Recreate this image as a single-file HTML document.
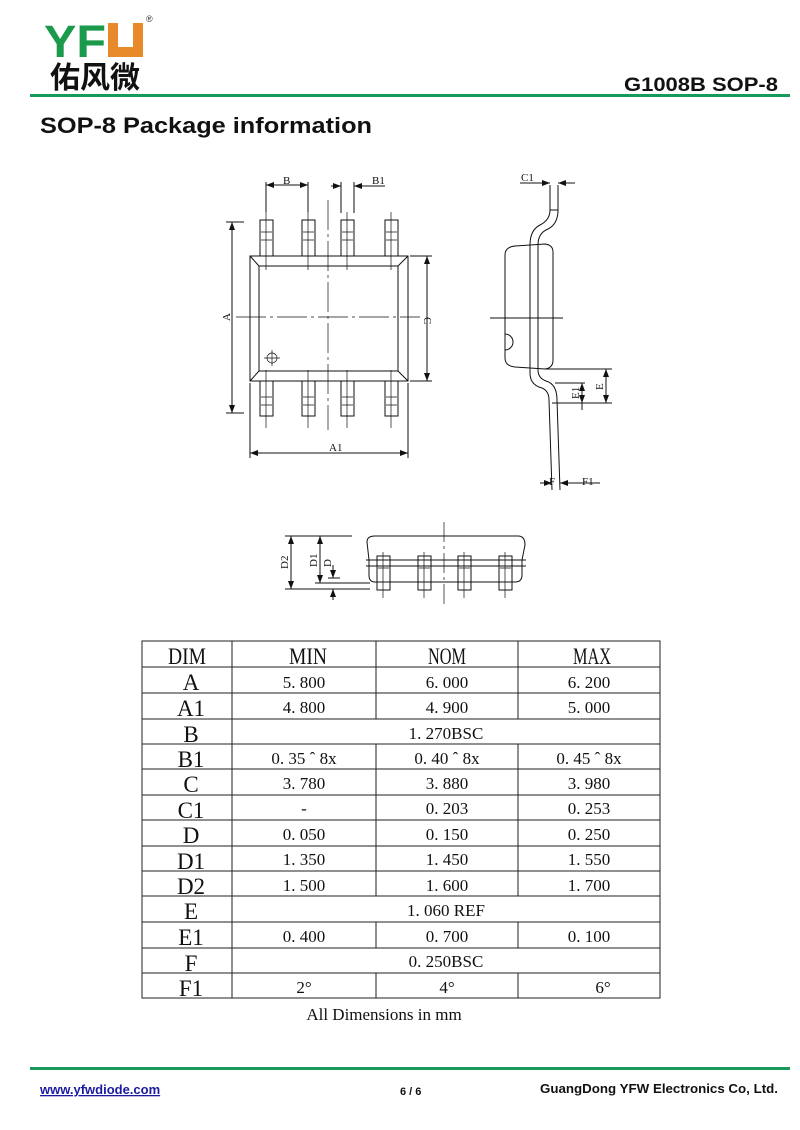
<!DOCTYPE html>
<html><head><meta charset="utf-8"><style>
html,body{margin:0;padding:0;background:#fff;}
svg{display:block}
.s{font-family:"Liberation Sans",Arial,sans-serif;font-weight:bold}
.t{font-family:"Liberation Serif","Noto Serif CJK SC",serif;fill:#111}
</style></head><body>
<svg width="800" height="1130" viewBox="0 0 800 1130" xmlns="http://www.w3.org/2000/svg">
<defs>
<marker id="ar" markerWidth="8" markerHeight="6" refX="8" refY="3" orient="auto-start-reverse" markerUnits="userSpaceOnUse"><path d="M0,0 L8,3 L0,6 z" fill="#111"/></marker>
</defs>
<!-- header -->
<text x="44" y="57" class="s" font-size="45" fill="#1a9a4a" textLength="62" lengthAdjust="spacingAndGlyphs">YF</text>
<path d="M108,23 h10 v24 h15 v-24 h10 v34 h-35 z" fill="#e88a2a"/>
<text x="146" y="22" font-family="Liberation Sans" font-size="9" fill="#333">®</text>
<text x="50" y="88" font-family="'Noto Sans CJK SC',sans-serif" font-weight="bold" font-size="30" fill="#111">佑风微</text>
<text x="624" y="91" class="s" font-size="19" fill="#111" textLength="154" lengthAdjust="spacingAndGlyphs">G1008B  SOP-8</text>
<rect x="30" y="94" width="760" height="3" fill="#1a9a5a"/>
<text x="40" y="133" class="s" font-size="22" fill="#111" textLength="332" lengthAdjust="spacingAndGlyphs">SOP-8 Package information</text>

<g stroke="#111" stroke-width="1" fill="none">
<!-- top view body -->
<rect x="250" y="256" width="158" height="125"/>
<rect x="259" y="266" width="139" height="105"/>
<path d="M250,256 L259,266 M408,256 L398,266 M250,381 L259,371 M408,381 L398,371"/>
<g>
<rect x="260" y="220" width="13" height="36"/><rect x="302" y="220" width="13" height="36"/><rect x="341" y="220" width="13" height="36"/><rect x="385" y="220" width="13" height="36"/>
<rect x="260" y="381" width="13" height="35"/><rect x="302" y="381" width="13" height="35"/><rect x="341" y="381" width="13" height="35"/><rect x="385" y="381" width="13" height="35"/>
</g>
<g stroke-width="0.7">
<path d="M266,212 V270 M308,212 V270 M347,212 V270 M391,212 V270 M266,370 V428 M308,370 V428 M347,370 V428 M391,370 V428"/>
<path d="M261,232 h11 M261,240 h11 M303,232 h11 M303,240 h11 M342,232 h11 M342,240 h11 M386,232 h11 M386,240 h11 M261,397 h11 M261,405 h11 M303,397 h11 M303,405 h11 M342,397 h11 M342,405 h11 M386,397 h11 M386,405 h11"/>
<path d="M236,317 H420" stroke-dasharray="30,4,3,4"/>
<path d="M328,200 V430" stroke-dasharray="30,4,3,4"/>
<circle cx="272" cy="358" r="5"/><path d="M264,358 h16 M272,350 v16"/>
</g>
<!-- dims -->
<path d="M226,222 H244 M226,413 H244"/>
<path d="M232,222 V413" marker-start="url(#ar)" marker-end="url(#ar)"/>
<path d="M410,256 H432 M410,381 H432"/>
<path d="M427,256 V381" marker-start="url(#ar)" marker-end="url(#ar)"/>
<path d="M250,383 V458 M408,383 V458"/>
<path d="M250,453 H408" marker-start="url(#ar)" marker-end="url(#ar)"/>
<path d="M266,182 V212 M308,182 V212 M341,182 V213 M354,182 V213"/>
<path d="M266,185 H308" marker-start="url(#ar)" marker-end="url(#ar)"/>
<path d="M331,186 H341" marker-end="url(#ar)"/><path d="M364,186 H354" marker-end="url(#ar)"/><path d="M354,186 H385"/>

<!-- side view -->
<path d="M505,255 Q505,247 515,246 L545,244 Q553,245 553,252 V360 Q553,368 545,369 L515,367 Q505,366 505,358 Z"/>
<path d="M505,334 A6,6 0 0 1 505,350"/>
<path d="M490,318 H563"/>
<path d="M550,185 V210 M558,185 V210"/>
<path d="M550,210 Q550,220 540,225 Q530,230 530,245 V373 Q530,385 542,388 Q549,391 549,400 L552,490"/>
<path d="M558,210 Q558,224 548,229 Q538,233 538,245 V370 Q538,378 546,381 Q557,384 557,400 L560,490"/>
<path d="M550,210 H558"/>
<path d="M520,183 H540" /><path d="M540,183 H550" marker-end="url(#ar)"/><path d="M575,183 H558" marker-end="url(#ar)"/>
<path d="M545,369 H612 M555,383 H585 M552,403 H612"/>
<path d="M606,369 V403" marker-start="url(#ar)" marker-end="url(#ar)"/>
<path d="M582,383 V403" marker-start="url(#ar)" marker-end="url(#ar)"/>
<path d="M582,403 V410"/>
<path d="M540,483 H552" marker-end="url(#ar)"/><path d="M568,483 H560" marker-end="url(#ar)"/><path d="M560,483 H600"/>

<!-- bottom view -->
<path d="M367,542 Q367,536 375,536 L518,536 Q525,536 525,545 L522,560 V575 Q522,582 515,582 L375,582 Q369,582 369,575 V560 Z"/>
<path d="M366,560 H526 M366,566 H526"/>
<rect x="377" y="556" width="13" height="34"/><rect x="418" y="556" width="13" height="34"/><rect x="458" y="556" width="13" height="34"/><rect x="499" y="556" width="13" height="34"/>
<g stroke-width="0.7"><path d="M383,552 V598 M424,552 V598 M464,552 V598 M505,552 V598 M378,568 h11 M419,568 h11 M459,568 h11 M500,568 h11"/>
<path d="M444,522 V608" stroke-dasharray="20,4,3,4"/></g>
<path d="M285,536 H352 M285,589 H370 M315,583 H370 M328,578 H340"/>
<path d="M291,536 V589" marker-start="url(#ar)" marker-end="url(#ar)"/>
<path d="M320,536 V583" marker-start="url(#ar)" marker-end="url(#ar)"/>
<path d="M333,565 V578" marker-end="url(#ar)"/><path d="M333,600 V589" marker-end="url(#ar)"/>
</g>
<g class="t" font-size="11">
<text x="283" y="184">B</text><text x="372" y="184">B1</text><text x="521" y="181">C1</text>
<text x="329" y="451">A1</text><text x="582" y="485">F1</text><text x="549" y="485">F</text>
<text transform="translate(230,321) rotate(-90)">A</text>
<text transform="translate(424,317) rotate(90)">C</text>
<text transform="translate(603,390) rotate(-90)">E</text>
<text transform="translate(579,399) rotate(-90)">E1</text>
<text transform="translate(288,569) rotate(-90)">D2</text>
<text transform="translate(317,567) rotate(-90)">D1</text>
<text transform="translate(331,567) rotate(-90)">D</text>
</g>

<!-- table -->
<g stroke="#222" stroke-width="1" fill="none">
<rect x="142" y="641" width="518" height="357"/>
<path d="M142,667 H660 M142,693 H660 M142,719 H660 M142,744 H660 M142,769 H660 M142,795 H660 M142,820 H660 M142,846 H660 M142,871 H660 M142,896 H660 M142,922 H660 M142,948 H660 M142,973 H660"/>
<path d="M232,641 V998"/>
<path d="M376,641 V719 M518,641 V719 M376,744 V896 M518,744 V896 M376,922 V948 M518,922 V948 M376,973 V998 M518,973 V998"/>
</g>
<g class="t" font-size="23" text-anchor="middle">
<text x="187" y="664" textLength="38" lengthAdjust="spacingAndGlyphs">DIM</text><text x="308" y="664" textLength="38" lengthAdjust="spacingAndGlyphs">MIN</text><text x="447" y="664" textLength="38" lengthAdjust="spacingAndGlyphs">NOM</text><text x="592" y="664" textLength="38" lengthAdjust="spacingAndGlyphs">MAX</text>
<text x="191" y="690">A</text><text x="191" y="716">A1</text><text x="191" y="742">B</text><text x="191" y="767">B1</text><text x="191" y="792">C</text><text x="191" y="818">C1</text><text x="191" y="843">D</text><text x="191" y="869">D1</text><text x="191" y="894">D2</text><text x="191" y="919">E</text><text x="191" y="945">E1</text><text x="191" y="971">F</text><text x="191" y="996">F1</text>
</g>
<g class="t" font-size="17" text-anchor="middle">
<text x="304" y="688">5. 800</text><text x="447" y="688">6. 000</text><text x="589" y="688">6. 200</text>
<text x="304" y="713">4. 800</text><text x="447" y="713">4. 900</text><text x="589" y="713">5. 000</text>
<text x="446" y="739">1. 270BSC</text>
<text x="304" y="764">0. 35 ˆ 8x</text><text x="447" y="764">0. 40 ˆ 8x</text><text x="589" y="764">0. 45 ˆ 8x</text>
<text x="304" y="789">3. 780</text><text x="447" y="789">3. 880</text><text x="589" y="789">3. 980</text>
<text x="304" y="814">-</text><text x="447" y="814">0. 203</text><text x="589" y="814">0. 253</text>
<text x="304" y="840">0. 050</text><text x="447" y="840">0. 150</text><text x="589" y="840">0. 250</text>
<text x="304" y="865">1. 350</text><text x="447" y="865">1. 450</text><text x="589" y="865">1. 550</text>
<text x="304" y="891">1. 500</text><text x="447" y="891">1. 600</text><text x="589" y="891">1. 700</text>
<text x="446" y="916">1. 060 REF</text>
<text x="304" y="942">0. 400</text><text x="447" y="942">0. 700</text><text x="589" y="942">0. 100</text>
<text x="446" y="967">0. 250BSC</text>
<text x="304" y="993">2°</text><text x="447" y="993">4°</text><text x="603" y="993">6°</text>
<text x="384" y="1020">All Dimensions in mm</text>
</g>

<!-- footer -->
<rect x="30" y="1067" width="760" height="3" fill="#1a9a5a"/>
<text x="40" y="1094" class="s" font-size="13" fill="#1a1aa0" text-decoration="underline">www.yfwdiode.com</text>
<text x="400" y="1095" class="s" font-size="11" fill="#111">6 / 6</text>
<text x="540" y="1093" class="s" font-size="13" fill="#111" textLength="238" lengthAdjust="spacingAndGlyphs">GuangDong YFW Electronics Co, Ltd.</text>
</svg>
</body></html>
